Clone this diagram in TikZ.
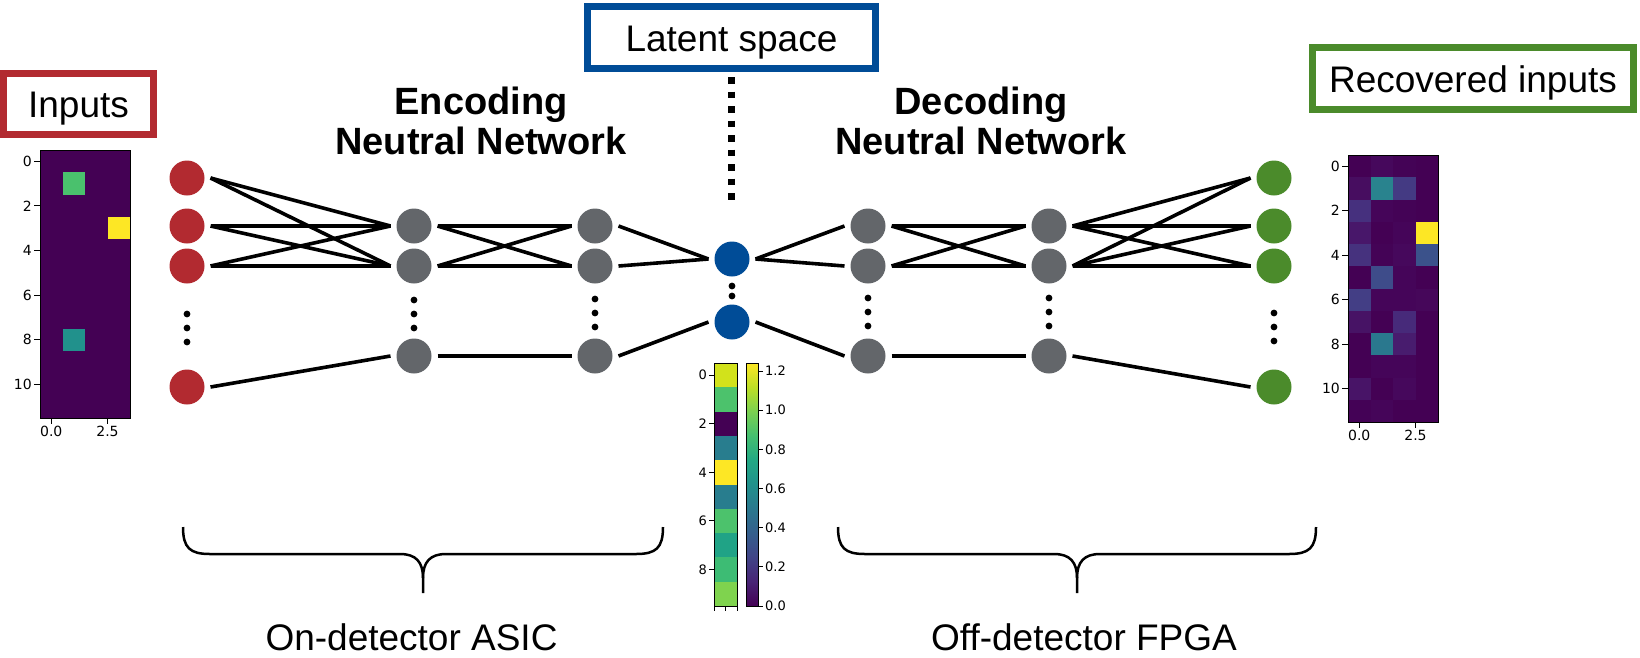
\documentclass[tikz,border=0pt]{standalone}
\usepackage{fontspec}
\setmainfont{Liberation Sans}
\newfontfamily\plotfont{DejaVu Sans}
\usetikzlibrary{shapes.geometric, arrows, calc}
\definecolor{inred}{HTML}{B22A30}
\definecolor{hidgray}{HTML}{63666A}
\definecolor{latblue}{HTML}{004C97}
\definecolor{outgreen}{HTML}{4B8B2B}
\definecolor{vir0}{HTML}{440154}
\definecolor{vir1}{HTML}{482475}
\definecolor{vir2}{HTML}{414487}
\definecolor{vir3}{HTML}{355F8D}
\definecolor{vir4}{HTML}{2A788E}
\definecolor{vir5}{HTML}{21918C}
\definecolor{vir6}{HTML}{22A884}
\definecolor{vir7}{HTML}{44BF70}
\definecolor{vir8}{HTML}{7AD151}
\definecolor{vir9}{HTML}{BDDF26}
\definecolor{vir10}{HTML}{FDE725}
\pgfdeclareverticalshading{viridisbar}{100bp}{color(0bp)=(vir0); color(25bp)=(vir0); color(30bp)=(vir1); color(35bp)=(vir2); color(40bp)=(vir3); color(45bp)=(vir4); color(50bp)=(vir5); color(55bp)=(vir6); color(60bp)=(vir7); color(65bp)=(vir8); color(70bp)=(vir9); color(75bp)=(vir10); color(100bp)=(vir10)}
\tikzstyle{neuron} = [circle, minimum size=35pt, inner sep=0pt, outer sep=6pt]
\tikzstyle{link} = [line width=3.6pt]
\tikzstyle{titlebox} = [rectangle, draw, line width=7pt, font=\fontsize{37}{44}\selectfont, text height=27pt, text depth=0pt, minimum height=62pt, inner sep=0pt]
\tikzstyle{nettitle} = [font=\fontsize{38}{40}\selectfont\bfseries, align=center, inner sep=0pt]
\tikzstyle{hwlabel} = [font=\fontsize{37}{44}\selectfont, anchor=base, inner sep=0pt]
\tikzstyle{ticklabel} = [font=\plotfont\fontsize{14}{16}\selectfont, inner sep=1pt]
\tikzstyle{cbarlabel} = [font=\plotfont\fontsize{13}{15}\selectfont, inner sep=1pt]
\tikzstyle{brace} = [line width=2.5pt]
\tikzstyle{latentdots} = [line width=7pt, dash pattern=on 6.5pt off 8pt, dash phase=9.5pt]

\begin{document}
\begin{tikzpicture}[x=1pt, y=-1pt]
\useasboundingbox (0,0) rectangle (1640,657);

\node (inputsBox) [titlebox, draw=inred, minimum width=150pt, minimum height=61pt] at (78.5,104) {Inputs};
\node (latentBox) [titlebox, draw=latblue, minimum width=288pt] at (731.5,37.5) {Latent space};
\node (recoveredBox) [titlebox, draw=outgreen, minimum width=321pt] at (1473,78.5) {Recovered inputs};
\coordinate (latentTail) at (731.5,200);
\draw [latentdots] (latentBox.south) -- (latentTail);

\node (encTitle) [nettitle] at (481,121) {Encoding\\Neutral Network};
\node (decTitle) [nettitle] at (981,121) {Decoding\\Neutral Network};

% input heatmap
\fill [vir0] (40,150) rectangle (130,418);
\foreach \c/\r/\hex in {1/1/4AC16D, 3/3/FDE725, 1/8/21918C} {
  \definecolor{cellcolor}{HTML}{\hex}
  \fill [cellcolor] ({40+22.5*\c},{150+22.33*\r}) rectangle ++(22.5,22.33);
}
\draw [line width=1pt] (40,150) rectangle (130,418);
\foreach \v in {0,2,...,10} {
  \draw [line width=1pt] (34,{150+22.33*(\v+0.5)}) -- (40,{150+22.33*(\v+0.5)});
  \node [ticklabel, anchor=east] at (33,{150+22.33*(\v+0.5)}) {\v};
}
\foreach \x/\t in {51.25/0.0, 107.5/2.5} {
  \draw [line width=1pt] (\x,418) -- (\x,424);
  \node [ticklabel, anchor=north] at (\x,425) {\t};
}

% recovered heatmap
\foreach \hex [count=\k from 0] in {440154,46085C,440356,440154, 470D60,29838E,443A83,440154, 46307E,450559,440356,440154, 48176A,440154,450559,FDE725, 46327E,440356,46085C,3B528B, 440154,3E4C8A,450559,440154, 433E85,450559,450559,46075A, 471365,440154,472A7A,440154, 440154,2A788E,481C6E,440154, 440154,450559,450559,440154, 481467,440154,46085C,440154, 440256,450559,440154,440154} {
  \pgfmathtruncatemacro{\row}{\k/4}
  \pgfmathtruncatemacro{\col}{mod(\k,4)}
  \definecolor{cellcolor}{HTML}{\hex}
  \fill [cellcolor] ({1348+22.5*\col},{155+22.25*\row}) rectangle ++(22.5,22.25);
}
\draw [line width=1pt] (1348,155) rectangle (1438,422);
\foreach \v in {0,2,...,10} {
  \draw [line width=1pt] (1342,{155+22.25*(\v+0.5)}) -- (1348,{155+22.25*(\v+0.5)});
  \node [ticklabel, anchor=east] at (1341,{155+22.25*(\v+0.5)}) {\v};
}
\foreach \x/\t in {1359.25/0.0, 1415.5/2.5} {
  \draw [line width=1pt] (\x,422) -- (\x,428);
  \node [ticklabel, anchor=north] at (\x,429) {\t};
}

% latent heatmap and colour bar
\foreach \hex [count=\k from 0] in {D2E21B,4CC26C,440154,287D8E,FDE725,287D8E,4CC26C,20A386,3DBC74,7FD34E} {
  \definecolor{cellcolor}{HTML}{\hex}
  \fill [cellcolor] (714,{363+24.3*\k}) rectangle ++(23,24.3);
}
\draw [line width=1pt] (714,363) rectangle (737,606);
\foreach \v in {0,2,...,8} {
  \draw [line width=1pt] (709,{363+24.3*(\v+0.5)}) -- (714,{363+24.3*(\v+0.5)});
  \node [cbarlabel, anchor=east] at (708,{363+24.3*(\v+0.5)}) {\v};
}
\foreach \x in {714,725.5,737}
  \draw [line width=1pt] (\x,606) -- (\x,611);
\shade [shading=viridisbar] (746,363) rectangle (758,606);
\draw [line width=1pt] (746,363) rectangle (758,606);
\foreach \v in {0.0,0.2,0.4,0.6,0.8,1.0,1.2} {
  \draw [line width=1pt] (758,{606-195.8*\v}) -- (763,{606-195.8*\v});
  \node [cbarlabel, anchor=west] at (764,{606-195.8*\v}) {\v};
}

% network
\node (in1) [neuron, fill=inred] at (187,178) {};
\node (in2) [neuron, fill=inred] at (187,226) {};
\node (in3) [neuron, fill=inred] at (187,266) {};
\node (inN) [neuron, fill=inred] at (187,387) {};
\node (enA1) [neuron, fill=hidgray] at (414,226) {};
\node (enA2) [neuron, fill=hidgray] at (414,266) {};
\node (enAN) [neuron, fill=hidgray] at (414,356) {};
\node (enB1) [neuron, fill=hidgray] at (595,226) {};
\node (enB2) [neuron, fill=hidgray] at (595,266) {};
\node (enBN) [neuron, fill=hidgray] at (595,356) {};
\node (lat1) [neuron, fill=latblue] at (732,259) {};
\node (latN) [neuron, fill=latblue] at (732,322) {};
\node (deA1) [neuron, fill=hidgray] at (868,226) {};
\node (deA2) [neuron, fill=hidgray] at (868,266) {};
\node (deAN) [neuron, fill=hidgray] at (868,356) {};
\node (deB1) [neuron, fill=hidgray] at (1049,226) {};
\node (deB2) [neuron, fill=hidgray] at (1049,266) {};
\node (deBN) [neuron, fill=hidgray] at (1049,356) {};
\node (out1) [neuron, fill=outgreen] at (1274,178) {};
\node (out2) [neuron, fill=outgreen] at (1274,226) {};
\node (out3) [neuron, fill=outgreen] at (1274,266) {};
\node (outN) [neuron, fill=outgreen] at (1274,387) {};

\foreach \a in {in1,in2,in3}
  \foreach \b in {enA1,enA2}
    \draw [link] (\a.east) -- (\b.west);
\foreach \a in {enA1,enA2}
  \foreach \b in {enB1,enB2}
    \draw [link] (\a.east) -- (\b.west);
\foreach \a in {deA1,deA2}
  \foreach \b in {deB1,deB2}
    \draw [link] (\a.east) -- (\b.west);
\foreach \a in {deB1,deB2}
  \foreach \b in {out1,out2,out3}
    \draw [link] (\a.east) -- (\b.west);
\draw [link] (inN.east) -- (enAN.west);
\draw [link] (enAN.east) -- (enBN.west);
\draw [link] (enB1.east) -- (lat1.west);
\draw [link] (enB2.east) -- (lat1.west);
\draw [link] (enBN.east) -- (latN.west);
\draw [link] (lat1.east) -- (deA1.west);
\draw [link] (lat1.east) -- (deA2.west);
\draw [link] (latN.east) -- (deAN.west);
\draw [link] (deAN.east) -- (deBN.west);
\draw [link] (deBN.east) -- (outN.west);

\foreach \x/\y in {187/314, 187/328, 187/342, 414/300, 414/314, 414/328, 595/299, 595/313, 595/327, 732/286, 732/296, 868/298, 868/312, 868/326, 1049/298, 1049/312, 1049/326, 1274/313, 1274/327, 1274/341}
  \fill (\x,\y) circle (3.4);

% braces
\draw [brace] (183,527) .. controls (183,548) and (190,554) .. (210,554) -- (400,554) .. controls (416,554) and (423,562) .. (423,578) -- (423,593);
\draw [brace] (663,527) .. controls (663,548) and (656,554) .. (636,554) -- (446,554) .. controls (430,554) and (423,562) .. (423,578);
\draw [brace] (838,527) .. controls (838,548) and (845,554) .. (865,554) -- (1054,554) .. controls (1070,554) and (1077,562) .. (1077,578) -- (1077,593);
\draw [brace] (1316,527) .. controls (1316,548) and (1309,554) .. (1289,554) -- (1100,554) .. controls (1084,554) and (1077,562) .. (1077,578);

\node (asicLabel) [hwlabel] at (411.5,650) {On-detector ASIC};
\node (fpgaLabel) [hwlabel] at (1084,650) {Off-detector FPGA};
\end{tikzpicture}
\end{document}
